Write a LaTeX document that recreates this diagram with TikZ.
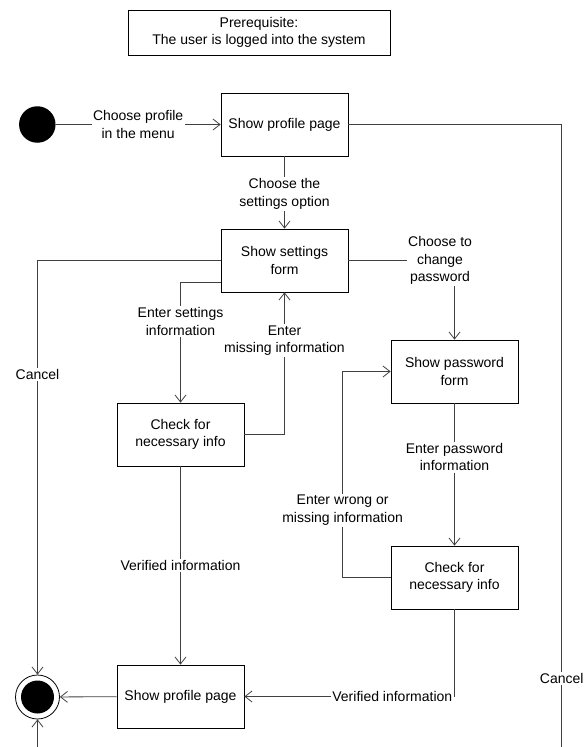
\documentclass[tikz,border=0pt]{standalone}
\usepackage{fontspec}
\setmainfont{Liberation Sans}
\usetikzlibrary{arrows.meta}
\begin{document}
\begin{tikzpicture}[x=1pt,y=-1pt,
  every node/.style={font=\fontsize{14}{17.5}\selectfont, text=black},
  state/.style={draw=black, line width=0.8pt, fill=white, minimum width=127pt,
    minimum height=63pt, align=center, inner sep=0pt},
  note/.style={draw=black, line width=0.8pt, minimum width=262pt,
    minimum height=45pt, align=center, inner sep=0pt},
  lbl/.style={fill=white, align=center, inner sep=1.5pt},
  wire/.style={draw=black!75, line width=0.8pt},
  flow/.style={wire, -{Straight Barb[length=7pt,width=11pt]}}]
\useasboundingbox (0,0) rectangle (586,747);

% precondition note
\node[note] (pre) at (259,32.5) {Prerequisite:\\The user is logged into the system};

% start and end states
\node[circle, fill=black, minimum size=36.5pt, inner sep=0pt] (init) at (37.3,124.5) {};
\node[circle, draw=black, line width=0.8pt, fill=white, minimum size=44pt, inner sep=0pt] (final) at (37.5,697) {};
\fill[black] (final.center) circle (16.5pt);

% activity states
\node[state] (prof)  at (284.5,124.5) {Show profile page};
\node[state] (sett)  at (284.5,260.5) {Show settings\\form};
\node[state] (chk1)  at (180.5,434.5) {Check for\\necessary info};
\node[state] (pwd)   at (454.5,371.5) {Show password\\form};
\node[state] (chk2)  at (454.5,577.5) {Check for\\necessary info};
\node[state] (prof2) at (180.5,696.5) {Show profile page};

% loose ends leaving the lower edge
\coordinate (cancelEnd) at (561.7,747);
\coordinate (bottomIn)  at (37.5,747);

% transitions
\draw[flow] (init) -- node[lbl] {Choose profile\\in the menu} (prof);
\draw[flow] (prof) -- node[lbl, pos=0.52] {Choose the\\settings option} (sett);
\draw[wire] (prof.east) -| node[lbl, pos=0.945] {Cancel} (cancelEnd);
\draw[flow] (sett.west) -| node[lbl, pos=0.638] {Cancel} (final.north);
\draw[flow] ([yshift=10.5pt]sett.south west) -| node[lbl, pos=0.665] {Enter settings\\information} (chk1.north);
\draw[flow] (chk1.east) -| node[lbl, pos=0.83] {Enter\\missing information} (sett.south);
\draw[flow] (chk1) -- node[lbl] {Verified information} (prof2);
\draw[flow] (prof2) -- (final);
\draw[flow] (bottomIn) -- (final);
\draw[flow] (sett.east) -| node[lbl, pos=0.432] {Choose to\\change\\password} (pwd.north);
\draw[flow] (pwd) -- node[lbl, pos=0.378] {Enter password\\information} (chk2);
\draw[flow] (chk2.west) -- ++(-48,0) |- node[lbl, pos=0.163] {Enter wrong or\\missing information} (pwd.west);
\draw[flow] (chk2.south) |- node[lbl, pos=0.648] {Verified information} (prof2.east);
\end{tikzpicture}
\end{document}
